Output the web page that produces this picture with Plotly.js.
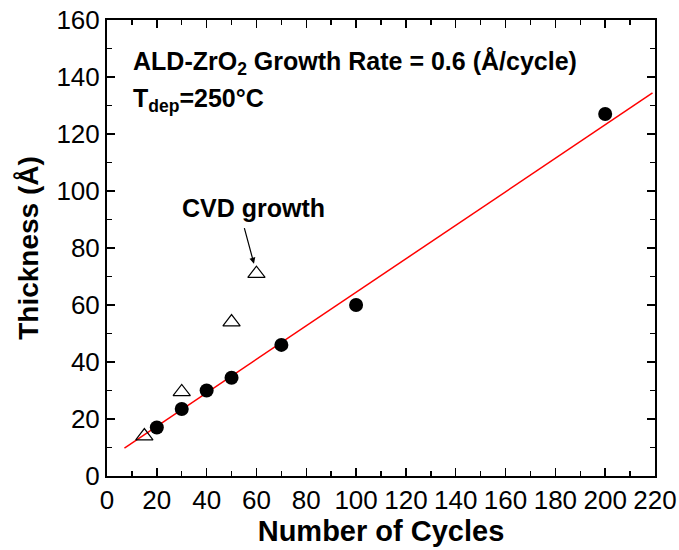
<!DOCTYPE html>
<html><head><meta charset="utf-8">
<script src="https://cdn.plot.ly/plotly-3.0.1.min.js"></script>
<style>body{margin:0;padding:0;background:#fff}#chart{width:679px;height:550px}</style>
</head><body><div id="chart"></div>
<script>
// ALD data (filled circles)
const aldCycles = [20, 30, 40, 50, 70, 100, 200];
const aldThickness = [17, 23.5, 30, 34.5, 46, 60, 127];
// CVD growth data (open triangles)
const cvdCycles = [15, 30, 50, 60];
const cvdThickness = [14, 29.5, 54, 71];
// Linear fit line endpoints
const fitCycles = [7, 219];
const fitThickness = [9.8, 134.4];
const xTicks = [0,20,40,60,80,100,120,140,160,180,200,220];
const yTicks = [0,20,40,60,80,100,120,140,160];

const F = 'Arial, "Liberation Sans", sans-serif';
const traces = [
  {x: fitCycles, y: fitThickness, mode: 'lines', line: {color: '#ff0000', width: 1.5}, showlegend: false, hoverinfo: 'skip'},
  {x: aldCycles, y: aldThickness, mode: 'markers', marker: {symbol: 'circle', size: 14, color: '#000'}, showlegend: false},
  {x: cvdCycles, y: cvdThickness, mode: 'markers', marker: {symbol: 'triangle-up-open', size: 15, color: '#000', line: {width: 1.2, color: '#000'}}, showlegend: false}
];
const axisCommon = {
  showgrid: false, zeroline: false, showline: true, linecolor: '#000', linewidth: 2,
  mirror: 'ticks', ticks: 'inside', ticklen: 8, tickwidth: 1.5, tickcolor: '#000',
  tickfont: {family: F, size: 26, color: '#000'},
  minor: {ticks: 'inside', ticklen: 5, tickwidth: 1.5, tickcolor: '#000', dtick: 10}
};
const layout = {
  width: 679, height: 550,
  margin: {l: 107, r: 24, t: 20, b: 74},
  paper_bgcolor: '#fff', plot_bgcolor: '#fff',
  xaxis: Object.assign({}, axisCommon, {range: [0, 220], tickvals: xTicks, ticktext: xTicks.map(String),
    title: {text: '<b>Number of Cycles</b>', font: {family: F, size: 29, color: '#000'}, standoff: 4}}),
  yaxis: Object.assign({}, axisCommon, {range: [0, 160], tickvals: yTicks, ticktext: yTicks.map(String),
    title: {text: '<b>Thickness (Å)</b>', font: {family: F, size: 28, color: '#000'}, standoff: 10}}),
  annotations: [
    {xref: 'paper', yref: 'paper', x: 0.044, y: 0.905, xanchor: 'left', yanchor: 'middle', showarrow: false,
     text: '<b>ALD-ZrO<sub>2</sub> Growth Rate = 0.6 (Å/cycle)</b>', font: {family: F, size: 25, color: '#000'}},
    {xref: 'paper', yref: 'paper', x: 0.044, y: 0.825, xanchor: 'left', yanchor: 'middle', showarrow: false,
     text: '<b>T<sub>dep</sub>=250°C</b>', font: {family: F, size: 25, color: '#000'}},
    {xref: 'x', yref: 'y', x: 59, y: 74.5, ax: -10, ay: -37, showarrow: true, arrowhead: 2, arrowsize: 1, arrowwidth: 1.2, arrowcolor: '#000', text: ''},
    {xref: 'x', yref: 'y', x: 59, y: 94, xanchor: 'center', yanchor: 'middle', showarrow: false,
     text: '<b>CVD growth</b>', font: {family: F, size: 25, color: '#000'}}
  ]
};
Plotly.newPlot('chart', traces, layout, {displayModeBar: false, staticPlot: true});
</script></body></html>
